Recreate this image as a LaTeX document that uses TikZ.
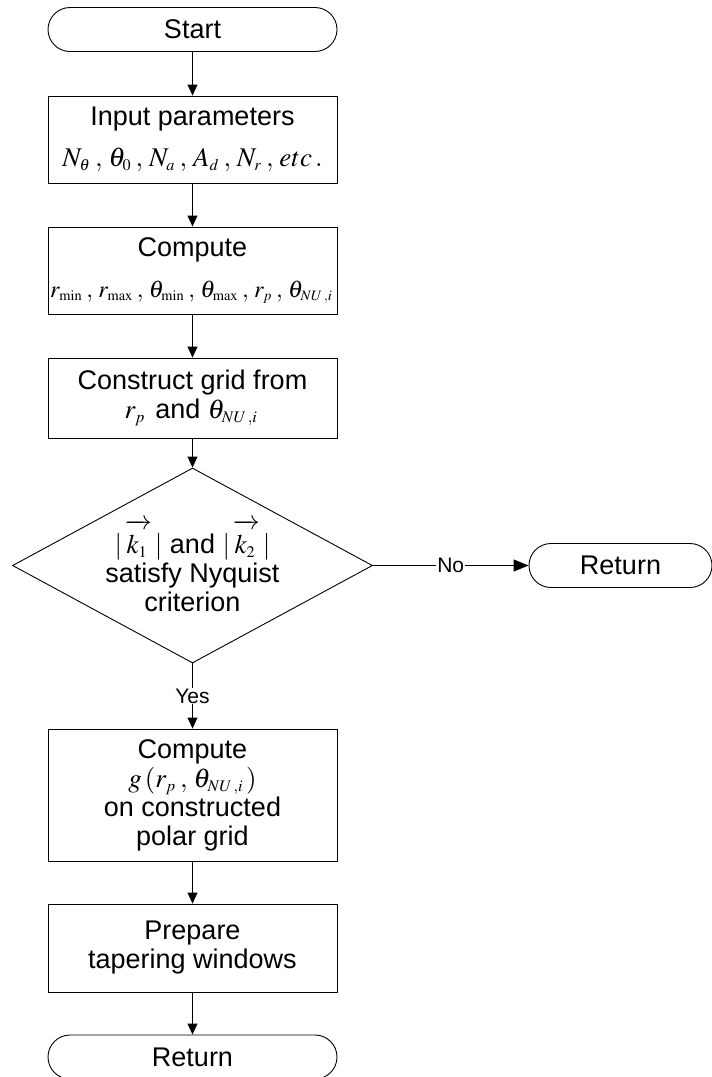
\documentclass[tikz,border=0pt]{standalone}
\usepackage{mathptmx}
\usepackage[no-math]{fontspec}
\setmainfont{Liberation Sans}
\usetikzlibrary{arrows.meta}
\usetikzlibrary{shapes.geometric}

\newcommand{\tinysub}[1]{_{\scriptscriptstyle #1}\mkern2mu}
\newcommand{\cm}{\mkern1mu,\mkern2mu}

\begin{document}
\begin{tikzpicture}[
  x=1pt, y=-1pt, line width=0.9pt,
  every node/.style={align=center, font=\fontsize{27}{29}\selectfont},
  term/.style={draw, rectangle, rounded corners=22pt, minimum width=289pt, minimum height=44pt},
  proc/.style={draw, rectangle, minimum width=289pt, inner sep=2pt},
  decision/.style={draw, diamond, aspect=1.85, minimum width=360pt, minimum height=195pt, inner sep=0pt},
  lbl/.style={fill=white, inner sep=1pt, font=\fontsize{21}{23}\selectfont},
  arr/.style={-{Triangle[width=10pt,length=11pt]}},
  arrbig/.style={-{Triangle[width=12pt,length=15pt]}}
]
  \useasboundingbox (0,0) rectangle (712,1077);

  \node[term] (start) at (192.5,29.5) {Start};
  \node[proc, minimum height=87pt] (input) at (192.5,139.5)
    {Input parameters\\[12pt]
     $N\tinysub{\theta}\cm\theta\tinysub{0}\cm N\tinysub{a}\cm A\tinysub{d}\cm N\tinysub{r}\cm etc\,.$};
  \node[proc, minimum height=87pt] (comp) at (192.5,270.5)
    {Compute\\[12pt]
     {\fontsize{24}{26}\selectfont$r\tinysub{\min}\cm r\tinysub{\max}\cm \theta\tinysub{\min}\cm \theta\tinysub{\max}\cm r\tinysub{p}\cm \theta\tinysub{NU\,,i}$}};
  \node[proc, minimum height=80pt] (grid) at (192.5,398)
    {Construct grid from\\ $r\tinysub{p}$ and $\theta\tinysub{NU\,,i}$};
  \node[decision] (check) at (192.5,565.5)
    {$|\,\overrightarrow{k\tinysub{1}\rule{0pt}{25pt}}\,|$ and $|\,\overrightarrow{k\tinysub{2}\rule{0pt}{25pt}}\,|$\\ satisfy Nyquist\\ criterion};
  \node[term, minimum width=183pt] (ret1) at (620.5,565.5) {Return};
  \node[proc, minimum height=132pt] (gcomp) at (192.5,795)
    {Compute\\ $g\,(r\tinysub{p}\cm \theta\tinysub{NU\,,i})$\\ on constructed\\ polar grid};
  \node[proc, minimum height=88pt] (taper) at (192.5,948)
    {Prepare\\ tapering windows};
  \node[term] (ret2) at (192.5,1057) {Return};

  \draw[arr] (start) -- (input);
  \draw[arr] (input) -- (comp);
  \draw[arr] (comp) -- (grid);
  \draw[arr] (grid) -- (check);
  \draw[arrbig] (check) -- node[lbl] {No} (ret1);
  \draw[arr] (check) -- node[lbl] {Yes} (gcomp);
  \draw[arr] (gcomp) -- (taper);
  \draw[arr] (taper) -- (ret2);
\end{tikzpicture}
\end{document}
